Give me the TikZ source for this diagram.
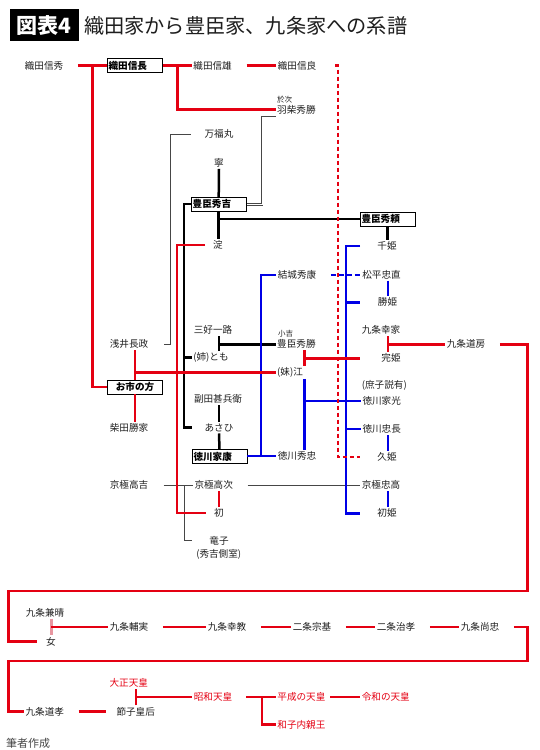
\documentclass[tikz,border=0pt]{standalone}
\usepackage{fontspec}
\setmainfont{Noto Sans CJK JP}
\usepackage{tikz}
\usetikzlibrary{calc}
\definecolor{kred}{RGB}{228,0,18}
\definecolor{kblue}{RGB}{0,0,230}
\definecolor{kgray}{RGB}{70,70,70}
\definecolor{kpink}{RGB}{232,150,160}
\definecolor{ktxt}{RGB}{30,30,30}

\begin{document}
\begin{tikzpicture}[x=1pt,y=-1pt,
  nm/.style={inner sep=1.5pt, text=ktxt, font=\fontsize{9.6}{11}\selectfont},
  rnm/.style={nm, text=kred},
  sm/.style={inner sep=0.5pt, text=ktxt, font=\fontsize{7.5}{8}\selectfont},
  namebox/.style={draw=black, line width=0.8pt, fill=white, text=black,
    font=\fontsize{9.6}{11}\selectfont\bfseries, text width=52pt, align=left,
    minimum height=14pt, inner xsep=1.5pt, inner ysep=0pt},
  rl/.style={draw=kred, line width=2.4pt},
  rld/.style={draw=kred, line width=2.4pt, dash pattern=on 4.5pt off 2.5pt},
  bl/.style={draw=kblue, line width=2.4pt},
  bld/.style={draw=kblue, line width=2.4pt, dash pattern=on 5pt off 3pt},
  kl/.style={draw=black, line width=2.5pt},
  gl/.style={draw=kgray, line width=1pt},
  gdl/.style={draw=kgray, double=white, line width=0.9pt, double distance=0.9pt},
  lgap/.style={shorten <=13pt}]
\useasboundingbox (0,0) rectangle (540,750);

% title
\node[fill=black, text=white, minimum width=69.4pt, minimum height=32.7pt,
  inner sep=0pt, font=\fontsize{21}{21}\selectfont\bfseries] (figno) at (44.3,25) {図表4};
\node[anchor=west, inner sep=1.5pt, text=ktxt, font=\fontsize{20.2}{21}\selectfont]
  (title) at (82.5,25.5) {織田家から豊臣家、九条家への系譜};

% columns and rows
\coordinate (xA) at (92.3,0);
\coordinate (xB) at (177.3,0);
\coordinate (xC) at (338,0);
\coordinate (xE) at (176.7,0);
\coordinate (xF) at (184,0);
\coordinate (xG) at (170,0);
\coordinate (xH) at (262,0);
\coordinate (xBl) at (261,0);
\coordinate (xI) at (304.3,0);
\coordinate (xJ) at (345.7,0);
\coordinate (xK) at (360,0);
\coordinate (xL) at (387.7,0);
\coordinate (xM) at (527.5,0);
\coordinate (xN) at (8.6,0);
\coordinate (xP) at (261.7,0);
\coordinate (rowA) at (0,591);
\coordinate (rowB) at (0,660.7);

% Oda
\node[nm] (nobuhide) at (44,65.5) {織田信秀};
\node[namebox] (nobunaga) at (134.6,65.5) {織田信長};
\node[nm] (nobukatsu) at (212.6,65.5) {織田信雄};
\node[nm] (nobuyoshi) at (297,65.5) {織田信良};
\node[sm, anchor=west] (otsugi) at (276.5,100) {於次};
\node[nm, anchor=west] (hashiba) at (275.5,109.5) {羽柴秀勝};

% Toyotomi
\node[nm] (manpuku) at (219,134) {万福丸};
\node[nm] (nene) at (219,162.7) {寧};
\node[namebox] (hideyoshi) at (218.7,204.2) {豊臣秀吉};
\node[namebox] (hideyori) at (387.5,219) {豊臣秀頼};
\node[nm] (yodo) at (218,245) {淀};
\node[nm] (senhime) at (387,245.7) {千姫};
\node[nm] (yuki) at (297,275) {結城秀康};
\node[nm] (matsudaira) at (381.5,274.5) {松平忠直};
\node[nm] (katsuhime) at (387.5,302.3) {勝姫};
\node[nm] (kujoyukiie) at (381,330) {九条幸家};
\node[nm] (miyoshi) at (213,330) {三好一路};
\node[sm, anchor=west] (kokichi) at (277.5,333.5) {小吉};
\node[nm, anchor=west] (hidekatsu) at (275.5,344.3) {豊臣秀勝};
\node[nm] (azai) at (129,344) {浅井長政};
\node[nm] (michifusa) at (466,344.3) {九条道房};
\node[nm, anchor=west] (tomo) at (191.7,357.3) {(姉)とも};
\node[nm] (kanhime) at (391,358.3) {完姫};
\node[nm, anchor=west] (go) at (275.5,372.3) {(妹)江};
\node[namebox, align=center] (oichi) at (135,387) {お市の方};
\node[nm, anchor=west] (shoshi) at (360.2,385.7) {(庶子説有)};
\node[nm] (soda) at (218,399) {副田甚兵衛};
\node[nm] (iemitsu) at (381.7,400.7) {徳川家光};
\node[nm] (shibata) at (129,428.3) {柴田勝家};
\node[nm] (asahi) at (219,427.7) {あさひ};
\node[nm] (tadanaga) at (381.7,429) {徳川忠長};
\node[namebox] (ieyasu) at (219.5,456.7) {徳川家康};
\node[nm] (hidetada) at (297,455.7) {徳川秀忠};
\node[nm] (hisahime) at (387,456.7) {久姫};
\node[nm] (takayoshi) at (129,485) {京極高吉};
\node[nm] (takatsugu) at (213.7,485) {京極高次};
\node[nm] (tadataka) at (381,485) {京極忠高};
\node[nm] (hatsu) at (219,512.7) {初};
\node[nm] (hatsuhime) at (387,513.3) {初姫};
\node[nm] (tatsuko) at (219,540.7) {竜子};
\node[nm] (sokushitsu) at (218.7,554) {(秀吉側室)};

% Kujo
\node[nm] (kaneharu) at (45,612.7) {九条兼晴};
\node[nm] (onna) at (51,641.6) {女};
\node[nm] (sukezane) at (129,627) {九条輔実};
\node[nm] (yukinori) at (227,627) {九条幸教};
\node[nm] (munemoto) at (312,627) {二条宗基};
\node[nm] (harutaka) at (396,627) {二条治孝};
\node[nm] (hisatada) at (480,627) {九条尚忠};
\node[nm] (michitaka) at (44.8,711.6) {九条道孝};
\node[rnm] (taisho) at (128.8,682.4) {大正天皇};
\node[nm] (sadako) at (135.7,711.6) {節子皇后};
\node[rnm] (showa) at (213,696.8) {昭和天皇};
\node[rnm, anchor=west] (heisei) at (275.7,696.8) {平成の天皇};
\node[rnm, anchor=west] (reiwa) at (360.1,696.8) {令和の天皇};
\node[rnm, anchor=west] (kazuko) at (275.7,724.4) {和子内親王};
\node[anchor=west, inner sep=1pt, text=kgray, font=\fontsize{11}{12}\selectfont]
  (credit) at (5,743.3) {筆者作成};

% Oda lines
\draw[rl,lgap] (nobuhide.east) -- (nobunaga.west);
\draw[rl] (xA |- nobuhide) |- (oichi.west);
\draw[rl] (nobunaga.east) -- (nobukatsu.west);
\draw[rl] (xB |- nobunaga) |- (hashiba.west);
\draw[rl,lgap] (nobukatsu.east) -- (nobuyoshi.west);

% gray lines
\draw[gl,shorten <=12.4pt,shorten >=13.6pt] (manpuku.west) -| (xG |- azai) -- (azai.east);
\draw[gdl] ([yshift=-7.5pt]hashiba.west) -| (xH |- hideyoshi.east) -- (hideyoshi.east);
\draw[gl,shorten <=13.6pt] (takayoshi.east) -- (takatsugu.west);
\draw[gl,shorten >=16.2pt] (xF |- takatsugu) |- (tatsuko.west);
\draw[gl,lgap] (takatsugu.east) -- (tadataka.west);

% Toyotomi lines
\draw[kl] (nene.south) -- (hideyoshi.north);
\draw[kl] (hideyoshi.south) -- (hideyoshi.south |- yodo.north);
\draw[kl] (hideyoshi.south |- hideyori) -- (hideyori.west);
\draw[kl] (hideyori.south) -- (hideyori.south |- senhime.north);
\draw[kl,shorten >=11.4pt] (hideyoshi.west) -| (xF |- asahi) -- (asahi.west);
\draw[kl] (xF |- tomo) -- (tomo.west);
\draw[kl] (nene |- miyoshi.south) -- (nene |- tomo.north);
\draw[kl] (nene |- hidekatsu) -- (hidekatsu.west);
\draw[kl] (soda.south -| asahi) -- (asahi.north);
\draw[kl] (asahi.south) -- (ieyasu.north);

% Azai lines
\draw[rl] (oichi |- azai.south) -- (oichi.north);
\draw[rl] (oichi.south) -- (oichi |- shibata.north);
\draw[rl,shorten <=6.5pt,shorten >=6.5pt] (yodo.west) -| (xE |- hatsu) -- (hatsu.west);
\draw[rl] (takatsugu.south -| hatsu) -- (hatsu.north);

% Tokugawa lines
\draw[bl] (ieyasu.east |- hidetada) -- (hidetada.west);
\draw[bl] (xBl |- hidetada) |- (yuki.west);
\draw[bl] (xI |- go.south) -- (xI |- hidetada.north);
\draw[bl] (xI |- iemitsu) -- (iemitsu.west);
\draw[bl] (xK |- senhime) -| (xJ |- hatsuhime) -- (xK |- hatsuhime);
\draw[bl] (xJ |- katsuhime) -- (xK |- katsuhime);
\draw[bl] (xJ |- tadanaga) -- (tadanaga.west);
\draw[bl] (matsudaira.south -| xL) -- (katsuhime.north -| xL);
\draw[bl] (tadanaga.south -| xL) -- (hisahime.north -| xL);
\draw[bl] (tadataka.south -| xL) -- (hatsuhime.north -| xL);
\draw[bld,lgap] (yuki.east) -- (yuki.east -| matsudaira.west);

% marriages
\draw[rl] (oichi |- go) -- (go.west);
\draw[rl] (xI |- hidekatsu.south) -- (xI |- go.north);
\draw[rl] (xI |- kanhime) -- (xK |- kanhime);
\draw[rl] (kujoyukiie.south -| xL) -- (kanhime.north -| xL);
\draw[rl] (xL |- michifusa) -- (michifusa.west);
\draw[rld] ([xshift=-3pt]xC |- nobuyoshi) -- (xC |- nobuyoshi) -- (xC |- hisahime) -- (xK |- hisahime);

% Kujo lines
\draw[rl,lgap,shorten >=7.5pt] (michifusa.east) -- (xM |- michifusa) -- (xM |- rowA) -- (xN |- rowA) |- (onna.west);
\draw[draw=kpink, line width=3pt] (kaneharu.south -| onna) -- (onna.north);
\draw[rl] (onna |- sukezane) -- (sukezane.west);
\draw[rl,lgap] (sukezane.east) -- (yukinori.west);
\draw[rl,lgap] (yukinori.east) -- (munemoto.west);
\draw[rl,lgap] (munemoto.east) -- (harutaka.west);
\draw[rl,lgap] (harutaka.east) -- (hisatada.west);
\draw[rl,lgap] (hisatada.east) -| (xM |- rowB) -| (xN |- michitaka) -- (michitaka.west);
\draw[rl,lgap,shorten >=9pt] (michitaka.east) -- (sadako.west);
\draw[rl] (sadako.north) -- (sadako.north |- taisho.south);
\draw[rl] (sadako |- showa) -- (showa.west);
\draw[rl,shorten <=12.3pt] (showa.east) -- (heisei.west);
\draw[rl] (xP |- showa) |- (kazuko.west);
\draw[rl,shorten <=3pt] (heisei.east) -- (reiwa.west);
\end{tikzpicture}
\end{document}
